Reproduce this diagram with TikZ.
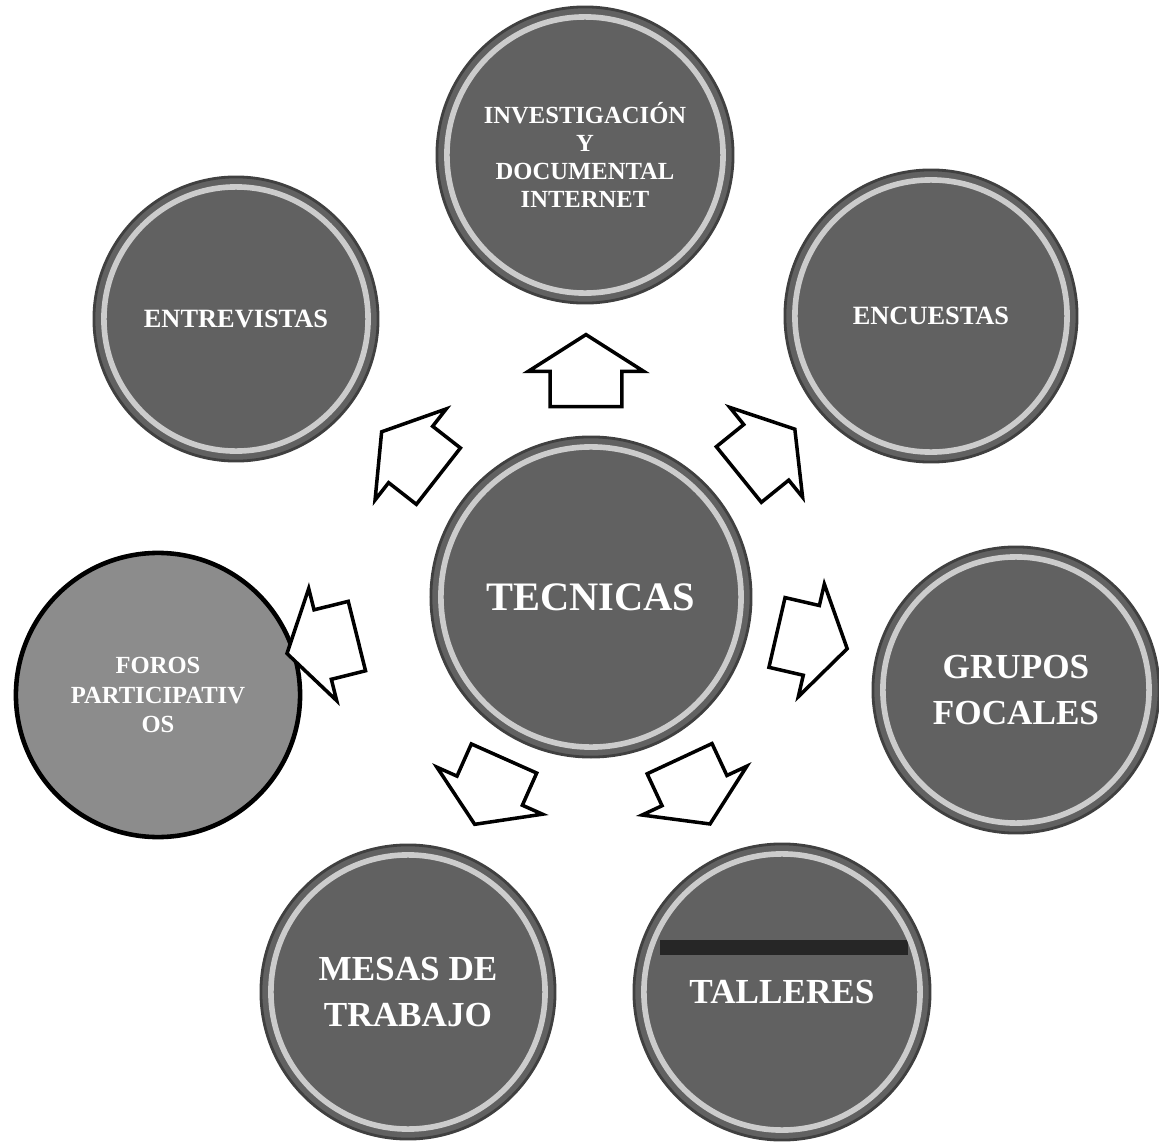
\documentclass[tikz,border=0pt]{standalone}
\usepackage{fontspec}
\setmainfont{Liberation Serif}
\usetikzlibrary{shapes.arrows}

\begin{document}
\begin{tikzpicture}[x=0.01cm, y=-0.01cm,
  bola/.style={circle, fill=black!62, draw=black!75, line width=0.8pt, inner sep=0pt,
    text=white, align=center},
  flecha/.style={single arrow, draw=black, line width=1pt, fill=white,
    inner xsep=0pt, inner ysep=0.34cm, minimum height=0.72cm,
    single arrow head extend=0.22cm, single arrow tip angle=115}]
  \useasboundingbox (0,0) rectangle (1159,1145);
  % circulos
  \node[bola, minimum size=3.2cm, font=\bfseries\fontsize{11.5}{13}\selectfont] (tec) at (591,597) {TECNICAS};
  \node[bola, minimum size=2.96cm, font=\bfseries\fontsize{7}{8}\selectfont] (inv) at (585,155) {INVESTIGACIÓN\\Y\\DOCUMENTAL\\INTERNET};
  \node[bola, minimum size=2.84cm, font=\bfseries\fontsize{7.5}{9}\selectfont] (ent) at (236,319) {ENTREVISTAS};
  \node[bola, minimum size=2.92cm, font=\bfseries\fontsize{7.5}{9}\selectfont] (enc) at (931,316) {ENCUESTAS};
  \node[bola, minimum size=2.84cm, fill=black!45, draw=black, line width=1.3pt,
    font=\bfseries\fontsize{7}{8.5}\selectfont] (for) at (158,695) {FOROS\\PARTICIPATIV\\OS};
  \node[bola, minimum size=2.86cm, font=\bfseries\fontsize{10}{13}\selectfont] (gru) at (1016,690) {GRUPOS\\FOCALES};
  \node[bola, minimum size=2.94cm, font=\bfseries\fontsize{10}{13}\selectfont] (mes) at (408,992) {MESAS DE\\TRABAJO};
  \node[bola, minimum size=2.96cm, font=\bfseries\fontsize{10}{13}\selectfont] (tal) at (782,992) {TALLERES};
  \fill[black!85] (660,940) rectangle (908,955);
  % bordes claros
  \foreach \n/\r in {tec/1.5, inv/1.38, ent/1.32, enc/1.36, gru/1.33, mes/1.37, tal/1.38}
    \draw[white!80!black, line width=1.6pt] (\n.center) circle[radius=\r cm];
  % flechas
  \node[flecha, rotate=90] (fInv) at (586,382) {};
  \node[flecha, rotate=142] (fEnt) at (419,461) {};
  \node[flecha, rotate=39] (fEnc) at (758,459) {};
  \node[flecha, rotate=194] (fFor) at (333,642) {};
  \node[flecha, rotate=-13] (fGru) at (801,638) {};
  \node[flecha, rotate=-114] (fMes) at (494,781) {};
  \node[flecha, rotate=-65] (fTal) at (690,781) {};
\end{tikzpicture}
\end{document}
